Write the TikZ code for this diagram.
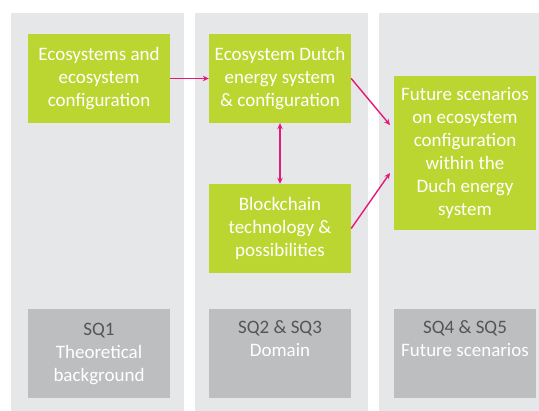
\documentclass[tikz,border=0pt]{standalone}
\usepackage{fontspec}
\setmainfont{Carlito}
\usetikzlibrary{arrows.meta}
\definecolor{bggrey}{HTML}{E6E7E9}
\definecolor{boxgrey}{HTML}{BDBEC0}
\definecolor{limegreen}{HTML}{BCD631}
\definecolor{magentaarrow}{HTML}{E5197A}
\definecolor{darktext}{HTML}{555555}
\tikzset{
  colbg/.style={fill=bggrey, draw=none},
  greenbox/.style={fill=limegreen, draw=none, text=white, align=center, inner sep=0pt,
    font=\fontsize{19}{23}\selectfont},
  greybox/.style={fill=boxgrey, draw=none, text=white, align=center, inner sep=0pt,
    font=\fontsize{19}{23}\selectfont},
  conn/.style={draw=magentaarrow, line width=1.4pt, -{Stealth[length=6pt,width=5.5pt]}},
  biconn/.style={draw=magentaarrow, line width=1.4pt, {Stealth[length=6pt,width=5.5pt]}-{Stealth[length=6pt,width=5.5pt]}}
}
\begin{document}
\begin{tikzpicture}[x=1pt,y=-1pt]
\useasboundingbox (0,0) rectangle (539,411);
\fill[white] (0,0) rectangle (539,411);
% columns
\fill[colbg] (11,13) rectangle (184,411);
\fill[colbg] (195,13) rectangle (368,411);
\fill[colbg] (379,13) rectangle (539,411);
% green boxes
\node[greenbox, minimum width=142pt, minimum height=89pt] (eco) at (99,78.5)
  {Ecosystems and\\ecosystem\\configuration};
\node[greenbox, minimum width=142pt, minimum height=89pt] (dutch) at (280,78.5)
  {Ecosystem Dutch\\energy system\\\& configuration};
\node[greenbox, minimum width=142pt, minimum height=89pt] (block) at (280,228.5)
  {Blockchain\\technology \&\\possibilities};
\node[greenbox, minimum width=142pt, minimum height=154pt] (future) at (465,153)
  {Future scenarios\\on ecosystem\\configuration\\within the\\Duch energy\\system};
% grey boxes
\node[greybox, minimum width=142pt, minimum height=89pt] (sq1) at (99,353.5)
  {\textcolor{darktext}{SQ1}\\Theoretical\\background};
\node[greybox, minimum width=142pt, minimum height=89pt] (sq2) at (280,353.5)
  {\textcolor{darktext}{SQ2 \& SQ3}\\Domain\\\strut};
\node[greybox, minimum width=142pt, minimum height=89pt] (sq4) at (465,353.5)
  {\textcolor{darktext}{SQ4 \& SQ5}\\Future scenarios\\\strut};
% connectors
\coordinate (fa) at (390,125);
\coordinate (fb) at (390,173);
\draw[conn] (eco.east) -- (dutch.west);
\draw[biconn] (dutch.south) -- (block.north);
\draw[conn] (dutch.east) -- (fa);
\draw[conn] (block.east) -- (fb);
\end{tikzpicture}
\end{document}
